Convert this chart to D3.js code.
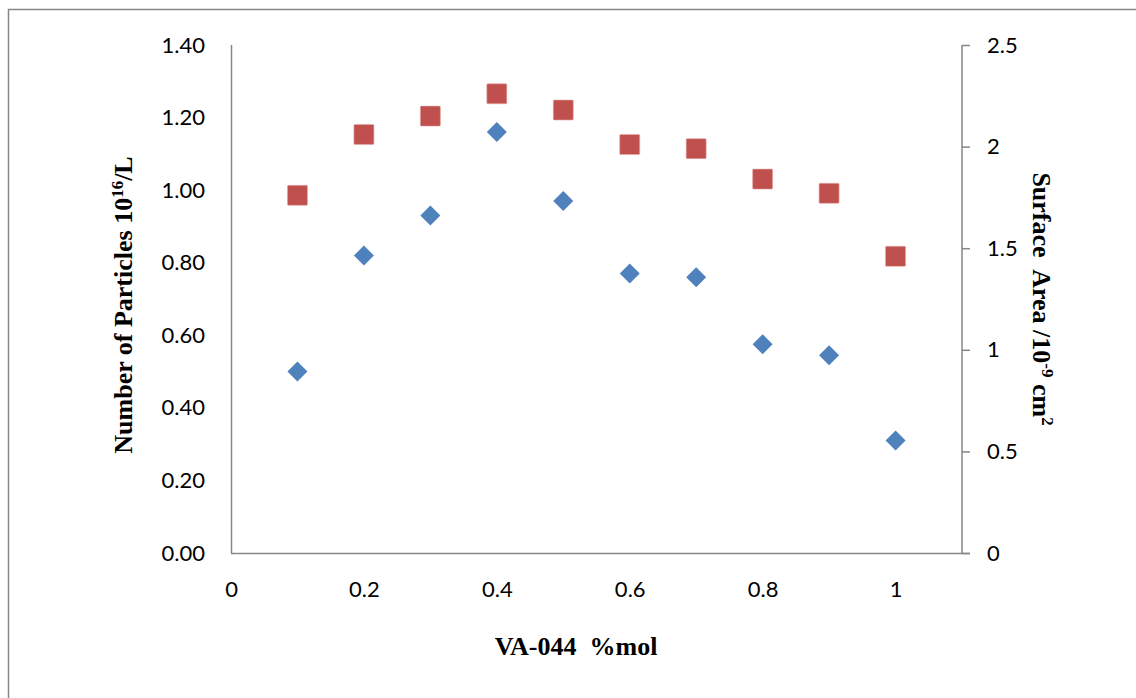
<!DOCTYPE html>
<html><head><meta charset="utf-8">
<script src="https://cdn.jsdelivr.net/npm/d3@7"></script>
<style>body{margin:0;background:#fff}svg{display:block}</style>
</head><body>
<script>
const xValues = [0.1,0.2,0.3,0.4,0.5,0.6,0.7,0.8,0.9,1.0];
const particles = [0.50,0.82,0.93,1.16,0.97,0.77,0.76,0.575,0.545,0.31];
const surfaceArea = [1.76,2.06,2.15,2.26,2.18,2.01,1.99,1.84,1.77,1.46];
const xTicks = [0,0.2,0.4,0.6,0.8,1];
const leftTicks = [0,0.2,0.4,0.6,0.8,1.0,1.2,1.4];
const rightTicks = [0,0.5,1,1.5,2,2.5];

const W=1136,H=698;
const svg=d3.select("body").append("svg").attr("width",W).attr("height",H);
svg.append("rect").attr("x",8.5).attr("y",9.5).attr("width",W+20).attr("height",H+20)
  .attr("fill","none").attr("stroke","#888").attr("stroke-width",1.5);

const L=231,R=962,T=45,B=553;
const x=d3.scaleLinear().domain([0,1.1]).range([L,R]);
const yL=d3.scaleLinear().domain([0,1.4]).range([B,T]);
const yR=d3.scaleLinear().domain([0,2.5]).range([B,T]);
const tickFont="Lato, 'Open Sans', sans-serif";
const axColor="#868686";

// left axis
const gl=svg.append("g").attr("transform",`translate(${L},0)`)
  .call(d3.axisLeft(yL).tickValues(leftTicks).tickSize(0).tickPadding(26).tickFormat(d3.format(".2f")));
// right axis
const gr=svg.append("g").attr("transform",`translate(${R},0)`)
  .call(d3.axisRight(yR).tickValues(rightTicks).tickSize(8).tickPadding(17).tickFormat(d=>String(d)));
// bottom axis
const gb=svg.append("g").attr("transform",`translate(0,${B})`)
  .call(d3.axisBottom(x).tickValues(xTicks).tickSize(0).tickPadding(28).tickFormat(d=>String(d)));

[gl,gr,gb].forEach(g=>{
  g.select(".domain").attr("stroke",axColor).attr("stroke-width",1.5);
  g.selectAll(".tick line").attr("stroke",axColor).attr("stroke-width",1.5);
  g.selectAll("text").attr("font-family",tickFont).attr("font-size",22).attr("fill","#000");
});
// extend bottom axis to right tick
gb.select(".domain").attr("d",`M${L},0.5H${R+8}`);
gl.select(".domain").attr("d",`M0.5,${T}V${B}`);
gr.select(".domain").attr("d",`M0,${T}V${B}`);

// markers
const g=svg.append("g");
g.selectAll("path.dia").data(xValues.map((v,i)=>[v,particles[i]])).join("path")
  .attr("class","dia")
  .attr("d",d3.symbol(d3.symbolSquare,200)())
  .attr("transform",d=>`translate(${x(d[0])},${yL(d[1])}) rotate(45)`)
  .attr("fill","#4F81BD");
g.selectAll("rect.sq").data(xValues.map((v,i)=>[v,surfaceArea[i]])).join("rect")
  .attr("class","sq")
  .attr("x",d=>x(d[0])-10).attr("y",d=>yR(d[1])-10)
  .attr("width",20).attr("height",20).attr("rx",1)
  .attr("fill","#C0504D").attr("stroke","#E6A8A6").attr("stroke-width",0.6);

const titleFont="'Liberation Serif', 'Times New Roman', serif";
// x title
svg.append("text").attr("x",576).attr("y",655).attr("text-anchor","middle")
  .attr("font-family",titleFont).attr("font-weight","bold").attr("font-size",26)
  .attr("xml:space","preserve").text("VA-044  %mol");
// left title
const lt=svg.append("text").attr("transform","translate(132,305) rotate(-90)")
  .attr("text-anchor","middle").attr("font-family",titleFont).attr("font-weight","bold").attr("font-size",26);
lt.append("tspan").text("Number of Particles 10");
lt.append("tspan").attr("font-size",17).attr("dy",-9).text("16");
lt.append("tspan").attr("dy",9).text("/L");
// right title
const rt=svg.append("text").attr("transform","translate(1033,299) rotate(90)")
  .attr("text-anchor","middle").attr("font-family",titleFont).attr("font-weight","bold").attr("font-size",26)
  .attr("xml:space","preserve");
rt.append("tspan").text("Surface  Area /10");
rt.append("tspan").attr("font-size",17).attr("dy",-9).text("-9");
rt.append("tspan").attr("dy",9).text(" cm");
rt.append("tspan").attr("font-size",17).attr("dy",-9).text("2");
</script>
</body></html>
